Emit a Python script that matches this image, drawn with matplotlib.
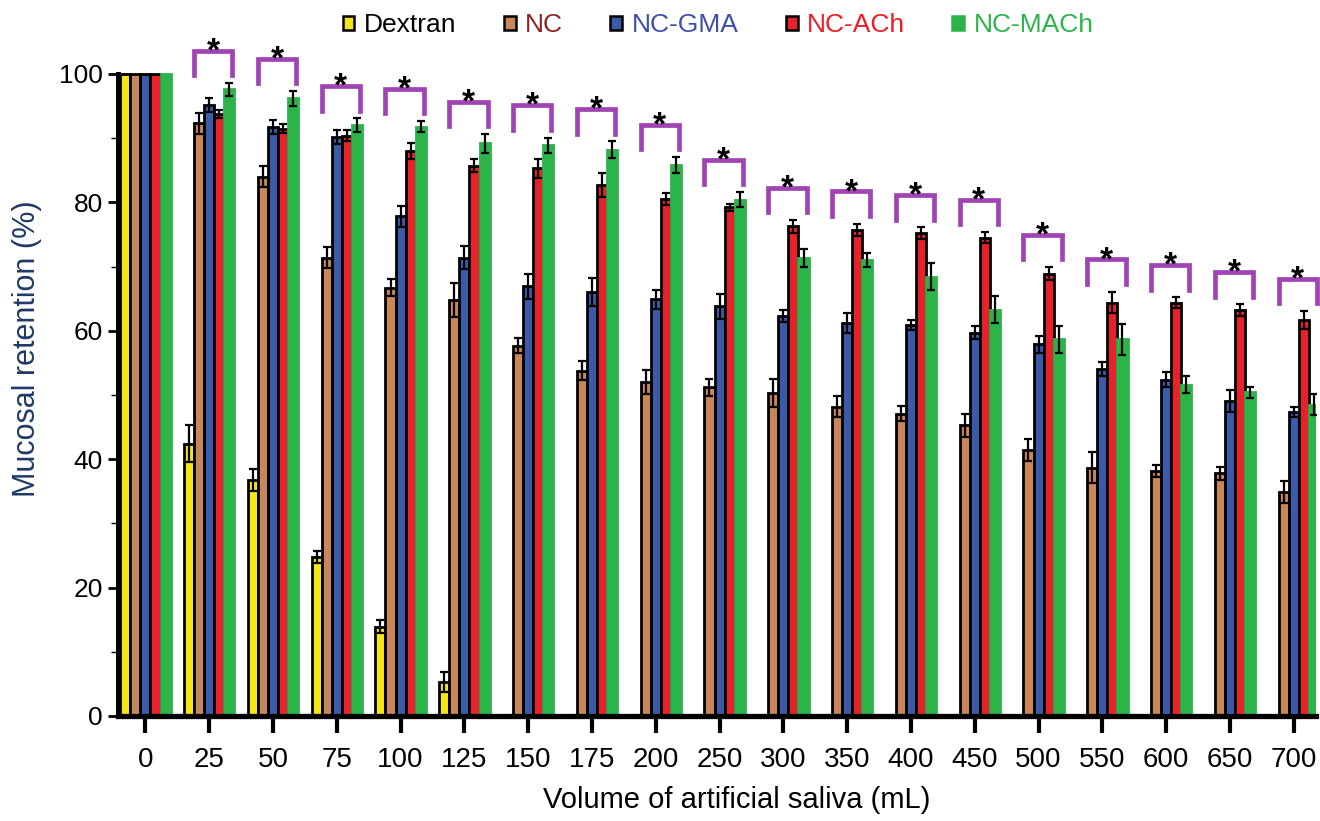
import numpy as np
import matplotlib
matplotlib.use("Agg")
import matplotlib.pyplot as plt
from matplotlib.patches import Patch

plt.rcParams['font.family'] = ['Liberation Sans', 'DejaVu Sans']

# data
volumes = ['0', '25', '50', '75', '100', '125', '150', '175', '200', '250',
           '300', '350', '400', '450', '500', '550', '600', '650', '700']
series = ['Dextran', 'NC', 'NC-GMA', 'NC-ACh', 'NC-MACh']

dextran = [100, 42.4, 36.7, 24.8, 13.9, 5.3] + [np.nan] * 13
dextran_err = [0, 2.9, 1.7, 0.9, 1.0, 1.6] + [np.nan] * 13

nc = [100, 92.3, 84.0, 71.4, 66.7, 64.8, 57.7, 53.8, 52.0, 51.2,
      50.3, 48.2, 47.1, 45.3, 41.4, 38.7, 38.2, 37.8, 34.9]
nc_err = [0, 1.6, 1.6, 1.7, 1.3, 2.7, 1.2, 1.5, 1.9, 1.3,
          2.2, 1.7, 1.2, 1.8, 1.7, 2.4, 0.9, 1.0, 1.7]

nc_gma = [100, 95.1, 91.8, 90.2, 77.8, 71.4, 66.9, 66.0, 64.9, 63.8,
          62.3, 61.2, 60.9, 59.7, 57.9, 54.0, 52.4, 49.1, 47.3]
nc_gma_err = [0, 1.1, 1.1, 1.1, 1.6, 1.8, 2.0, 2.2, 1.5, 1.9,
              1.0, 1.5, 0.8, 1.0, 1.3, 1.1, 1.2, 1.7, 0.8]

nc_ach = [100, 93.8, 91.5, 90.4, 88.0, 85.7, 85.3, 82.7, 80.5, 79.2,
          76.3, 75.7, 75.2, 74.5, 68.9, 64.4, 64.4, 63.2, 61.7]
nc_ach_err = [0, 0.6, 0.7, 0.8, 1.2, 1.0, 1.5, 1.9, 0.9, 0.5,
              1.0, 1.0, 0.9, 0.9, 1.0, 1.7, 0.8, 0.9, 1.4]

nc_mach = [100, 97.6, 96.2, 92.0, 91.8, 89.2, 88.9, 88.2, 85.8, 80.4,
           71.4, 71.0, 68.4, 63.3, 58.7, 58.7, 51.6, 50.4, 48.5]
nc_mach_err = [0, 1.0, 1.2, 1.1, 0.9, 1.5, 1.2, 1.3, 1.3, 1.2,
               1.4, 1.1, 2.1, 2.1, 2.1, 2.4, 1.3, 0.9, 1.6]

# groups marked significant (*)
signif = volumes[1:]

values = [dextran, nc, nc_gma, nc_ach, nc_mach]
errors = [dextran_err, nc_err, nc_gma_err, nc_ach_err, nc_mach_err]
colors = ['#F5E61A', '#C98658', '#3B5BA9', '#E8222A', '#2CB34A']
edges = ['black', 'black', 'black', 'black', '#2CB34A']
text_colors = ['black', '#8E2424', '#3F4FA8', '#EE1C25', '#2CB34A']

fig = plt.figure(figsize=(13.2, 8.21), dpi=100)
ax = fig.add_axes([0.0894, 0.1279, 0.9076, 0.8446])

x = np.arange(len(volumes))
w = 0.158

for i in range(len(series)):
    vals = np.array(values[i], dtype=float)
    errs = np.array(errors[i], dtype=float)
    ok = ~np.isnan(vals)
    pos = x + (i - 2) * w
    ax.bar(pos[ok], vals[ok], w, color=colors[i], edgecolor=edges[i],
           linewidth=2.0, zorder=2)
    has_err = ok & (errs > 0)
    ax.errorbar(pos[has_err], vals[has_err], yerr=errs[has_err], fmt='none',
                ecolor='black', elinewidth=1.6, capsize=2.8, capthick=1.6, zorder=3)

# significance brackets
for j, v in enumerate(volumes):
    if v not in signif:
        continue
    tops = [values[i][j] + errors[i][j] for i in range(1, 5)]
    top = max(tops) + 5.0
    xl = x[j] - w * 1.5
    xr = x[j] + w * 2.3
    ax.plot([xl, xl, xr, xr], [top - 3.8, top, top, top - 3.8],
            color='#A043B3', lw=3.4, solid_joinstyle='miter', zorder=4,
            clip_on=False)
    ax.text((xl + xr) / 2, top - 1.5, '*', ha='center', va='baseline',
            fontsize=24, fontweight='bold', color='black', zorder=5)

ax.set_xlim(-0.43, 18.35)
ax.set_ylim(0, 108)
ax.set_xticks(x)
ax.set_xticklabels(volumes, fontsize=20)
ax.set_yticks([0, 20, 40, 60, 80, 100])
ax.set_yticks([10, 30, 50, 70, 90], minor=True)
ax.tick_params(axis='y', which='major', labelsize=19, length=7, width=2, pad=4)
ax.tick_params(axis='y', which='minor', length=5, width=1)
ax.tick_params(axis='x', which='major', length=12, width=3, pad=10)

for s in ['top', 'right']:
    ax.spines[s].set_visible(False)
ax.spines['left'].set_linewidth(3.6)
ax.spines['bottom'].set_linewidth(3.8)
ax.spines['left'].set_bounds(0, 100)

fig.text(0.0205, 0.575, 'Mucosal retention (%)', rotation=90, ha='center',
         va='center', fontsize=22, color='#1E3A66')
fig.text(0.558, 0.026, 'Volume of artificial saliva (mL)', ha='center',
         va='center', fontsize=21, color='black')

handles = [Patch(facecolor=colors[i], edgecolor=edges[i], linewidth=1.8)
           for i in range(len(series))]
leg = fig.legend(handles, series, loc='center', bbox_to_anchor=(0.544, 0.969),
                 ncol=5, frameon=False, fontsize=19, handlelength=0.45,
                 handleheight=0.45, handletextpad=0.35, columnspacing=1.8)
for t, c in zip(leg.get_texts(), text_colors):
    t.set_color(c)

fig.savefig('out.png', dpi=100)
